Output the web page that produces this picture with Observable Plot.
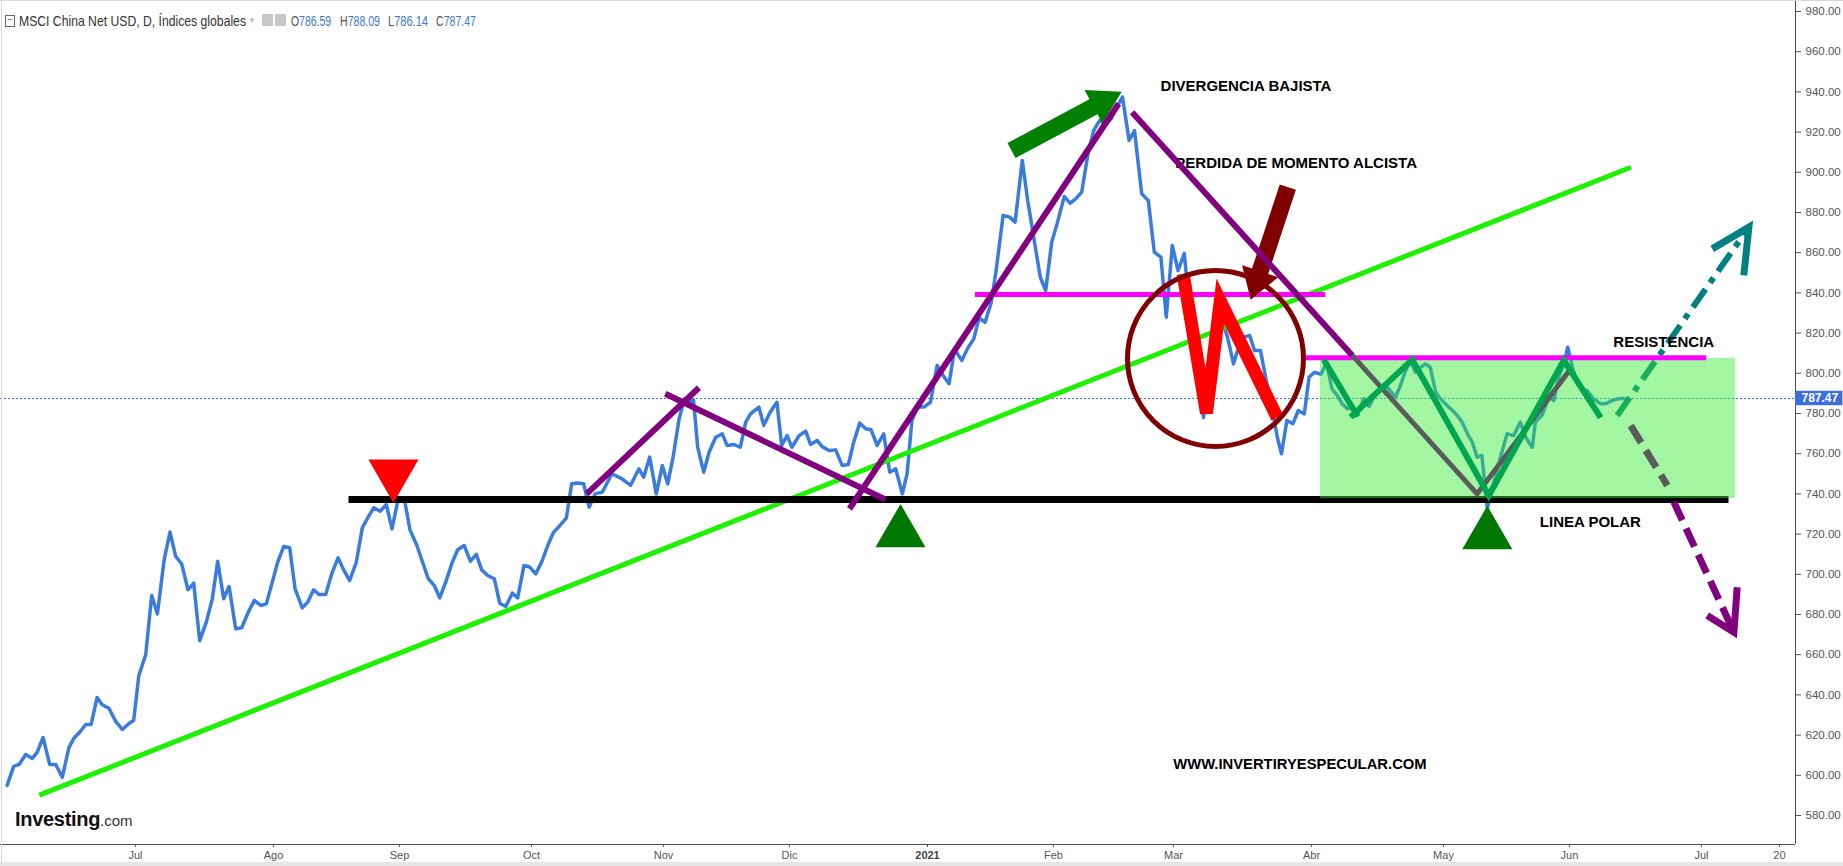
<!DOCTYPE html>
<html><head><meta charset="utf-8">
<script src="https://cdn.jsdelivr.net/npm/d3@7"></script>
<script src="https://cdn.jsdelivr.net/npm/@observablehq/plot@0.6"></script>
<style>
html,body{margin:0;padding:0;background:#fff;}
#wrap{position:relative;width:1843px;height:866px;overflow:hidden;background:#fff;}
#chart{position:absolute;left:0;top:0;}
#hdr{position:absolute;left:0;top:12px;height:18px;width:700px;color:#333;font-size:15px;font-family:"Liberation Sans",Arial,sans-serif;}
#hdr > span{position:absolute;top:0;white-space:nowrap;line-height:18px;transform-origin:0 50%;}
#hdr .box{left:5px;top:3px;width:8px;height:10px;border:1px solid #666;line-height:8px;font-size:10px;text-align:center;color:#666;}
#hdr .caret{left:248px;color:#bbb;font-size:8px;}
#hdr .ico{top:2px;width:11px;height:12px;background:#c8c8c8;border-radius:1px;}
#hdr .v{color:#3a78d6;}
#hdr .k{color:#555;}
#logo{position:absolute;left:15px;top:808px;font-family:"Liberation Sans",Arial,sans-serif;white-space:nowrap;}
#logo b{font-size:20px;color:#111;letter-spacing:-0.3px;}
#logo span{font-size:15px;color:#333;}
#edgeL{position:absolute;left:1px;top:0;width:1px;height:862px;background:#d8d8d8;}
#edgeT{position:absolute;left:0;top:0;width:1843px;height:1px;background:#d8d8d8;}
#band{position:absolute;left:0;top:862px;width:1843px;height:4px;background:#e6e6e6;}
</style></head>
<body><div id="wrap"><div id="chart"></div><div id="edgeL"></div><div id="edgeT"></div><div id="band"></div>
<div id="hdr"></div>
<div id="logo"><b>Investing</b><span>.com</span></div>
</div>
<script>
// ---- DATA ----
// trading sessions counted from 1 Jul 2020 (= 0); weekends skipped
const session = [
-21.4,-20.3,-19.4,-18.3,-17.2,-16.4,-15.4,-14.3,-13.3,-12.2,-11.1,-10.3,-9.2,-8.3,-7.4,-6.4,-5.6,-4.4,-3.3,-2.2,-1.1,-0.3,0.55,
1.7,2.7,3.65,4.8,5.75,6.7,7.7,8.75,9.7,10.7,11.8,12.8,13.7,14.7,15.6,16.7,17.7,18.8,19.8,20.9,21.8,22.8,23.7,24.7,25.7,26.6,27.8,28.7,29.7,30.6,31.7,32.7,33.75,34.7,35.7,36.8,37.8,38.7,39.7,40.8,41.8,42.75,43.8,44.8,45.75,46.9,47.85,48.8,49.8,50.7,51.7,52.8,53.7,54.8,55.8,56.8,57.7,58.7,59.8,60.7,61.7,62.8,63.7,64.75,65.7,66.7,67.75,68.7,69.7,70.75,71.8,72.7,73.7,74.7,75.6,76.6,
77.8,79.4,81.1,82.5,83.9,84.7,85.7,86.8,87.8,88.7,89.6,90.6,91.5,92.2,93,93.7,94.7,95.6,96.7,97.8,98.6,99.7,100.8,101.7,102.5,103.9,104.7,105.8,106.9,107.7,108.6,109.4,110.6,111.7,112.5,113.6,114.4,115.6,116.7,117.8,118.8,119.7,120.7,121.7,122.6,123.6,124.7,125.7,126.7,127.8,128.6,129.4,130.3,131.4,132.5,133.6,134.6,135.6,136.5,137.7,138.8,139.7,140.6,141.6,142.6,
143.4,144.6,145.7,146.6,147.8,148.7,149.7,150.8,151.7,152.7,153.6,154.8,155.75,156.7,157.7,158.75,159.7,160.7,161.6,162.6,163.5,164.5,165.6,166.5,167.7,168.8,169.8,170.9,171.8,172.8,173.75,174.8,175.85,
177,178,179.2,180.2,181.1,182,183,183.5,184.6,185.7,186.5,187.5,188.4,189.4,190.3,191,191.9,192.9,193.8,194.8,195.6,196.5,197.6,198.5,
199.4,200.3,201.1,202,202.8,203.6,204.7,205.6,206.4,207.5,208.6,210,210.8,211.7,212.5,213.3,214.2,215,215.8,216.7,217.5,218.3,219.5,220.3,221.1,222,222.8,223.6,224.4,225.3,226.4,227.5,228.6,229.7,230.8,231.7,232.8,233.3,234.4,235.6,236.4,237.2,238.1,238.7,239.5,240.3,241.1,241.9,243,244.2,245,246.1,247.2,248.1
];
const closeValue = [
595,604.4,605.4,610.3,608.4,611.4,618.8,605.4,605.4,599,613.8,618.3,621.8,625.3,625.3,638.7,635.2,633.2,626.8,622.8,625.8,627.3,649.6,
660,689.4,680.3,707.7,721,708.9,705.2,692.3,695.6,667,676.2,687.8,706.5,687.8,693.9,672.9,673.4,681.2,687,684.5,685.3,696.1,706,713.8,713.2,692.8,683.3,686.1,692.3,689.9,689.9,700.2,708.2,702.2,696.9,706,723.1,728.1,733.1,731.4,734.7,722.6,737.6,737.6,722.1,714.3,706,697.8,694.4,688.3,696.1,706,712.2,714.3,706.5,709.9,702.2,699.4,697.8,685.6,684,690.6,688.3,704.4,703.6,700.2,706.5,714.3,721,724.3,727.9,745,745.4,745,733.4,740,
740.9,750,747.5,744.2,752.5,748.3,758.3,740,754.1,745,758.3,777.4,787.3,785.6,786.8,763.2,750.8,760.7,768.2,769.9,764.1,764.6,763.2,775.7,779.8,783.2,774.1,780.7,785.6,764.1,769,763.2,769,771.2,764.6,766.6,763.6,761.6,761.9,754.1,754.6,765.7,775.2,772.4,771.9,764.1,769.9,750.8,752.5,740,750,776.5,783.2,783.2,785.6,803.9,798.9,794.8,812,806.4,813,817,827.5,825.4,835,
850.3,878.5,877.7,875.2,905.9,886,867.7,847.8,841.2,865.2,874.4,888,884.6,886.8,890.1,909.2,920.8,925.8,924.1,926.6,932.4,937.4,915.8,920.8,889.3,886,860.3,857.8,827.9,863.6,851.1,859.7,826.3,
800,778,800,836,826.3,818,804.7,809.7,818,818.8,811.3,811.3,797.2,783.2,768.2,760,776.5,774.9,781.5,779.8,798.1,800.5,799.5,805.5,
792.3,789,784.8,782.3,783.2,779,787.3,783.5,788.1,793.1,793.1,788.1,793.9,801.4,806.4,800.5,803,804.7,803,790.6,787.3,784.8,781.5,779,775.7,769.9,765.7,758.3,759.1,733,745.8,758.3,769.9,769,775.7,768.2,763.2,775.7,779,788.1,786.5,798.1,804.7,813,803,794.8,791.5,791.5,787.3,784.8,784.8,786.5,787.3,787.47
];
const ohlcKeys = ["O","H","L","C"];
const ohlcValues = [786.59, 788.09, 786.14, 787.47];
const lastClose = 787.47;
const titleText = "MSCI China Net USD, D, Índices globales";

const tickSessions = [0,23,44,66,88,109,132,153,173,196,218,239,261,274];
const tickLabels = ["Jul","Ago","Sep","Oct","Nov","Dic","2021","Feb","Mar","Abr","May","Jun","Jul","20"];
const yTicks = d3.range(580, 981, 20);

// annotation drawings, in (session, price)
const supportTrend = [[-16.03,590.1],[249.25,902.5]];
const polarLine = [[35.5,737.2],[265.5,737.2]];
const purpleA = [[75.2,740.0],[93.9,792.8]];
const purpleB = [[88.3,789.8],[125,737.2]];
const purpleC = [[119,732.6],[163.85,934.1]];
const purpleD = [[166.1,929.9],[202.8,808.9]];
const grayV = [[202.8,808.9],[223.6,740],[239.2,802.2]];
const grayDash = [[249.2,774.0],[255.3,744.2]];
const purpleDash = [[256.4,735.9],[266.4,671.2]];
const purpleHead = [[261.95,679.5],[266.4,671.2],[266.95,693.6]];
const tealDash = [[246.95,779.0],[268.9,872.7]];
const tealHead = [[262.8,861.9],[268.9,872.7],[268.05,848.7]];
const greenZigA = [[198.05,806.7],[203.7,778.5]];
const greenZigB = [[202.5,778.2],[212.8,806.7],[225.55,739.2],[238.05,806.4],[244.2,777.9]];
const magentaHigh = [[139.9,839.2],[198.3,839.2]];
const resistance = [[194.8,807.7],[261.8,807.7]];
const redW = [[174.6,849.5],[178.5,780.2],[180.8,835.9],[190.3,777.9]];
const greenZone = [{x1:197.5, x2:266.7, y1:737.7, y2:807.4}];
const wCircle = [[180.0,807.4]];
const greenArrow = [[146,910.8],[164.37,940.1]];
const redArrow = [[192.05,892.6],[185.87,836.6]];
const topMarker = [[43.0,749.9]];
const bottomMarkers = [[127.5,720.6],[225.3,719.7]];
const notes = [
  {text:"DIVERGENCIA BAJISTA", x:170.85, y:942.7},
  {text:"PERDIDA DE MOMENTO ALCISTA", x:173.3, y:904.5},
  {text:"RESISTENCIA", x:246.3, y:815.5},
  {text:"LINEA POLAR", x:234.05, y:725.9}
];
const website = [{text:"WWW.INVERTIRYESPECULAR.COM", x:172.95, y:605.7}];

// ---- CHART ----
const W = 1843, H = 866, mR = 48, mB = 22;
const xDomain = [-22.5, 276.667];
const yDomain = [565.57, 985.47];
const xs = d3.scaleLinear(xDomain, [0, W - mR]);
const ys = d3.scaleLinear(yDomain, [H - mB, 0]);

function arrowPolygon([t, h], shaftW, headW, headL) {
  const ax = xs(t[0]), ay = ys(t[1]), bx = xs(h[0]), by = ys(h[1]);
  const dx = bx - ax, dy = by - ay, L = Math.hypot(dx, dy);
  const ux = dx / L, uy = dy / L, nx = -uy, ny = ux;
  const cx = bx - ux * headL, cy = by - uy * headL;
  const pts = [
    [ax + nx*shaftW/2, ay + ny*shaftW/2],
    [cx + nx*shaftW/2, cy + ny*shaftW/2],
    [cx + nx*headW/2, cy + ny*headW/2],
    [bx, by],
    [cx - nx*headW/2, cy - ny*headW/2],
    [cx - nx*shaftW/2, cy - ny*shaftW/2],
    [ax - nx*shaftW/2, ay - ny*shaftW/2],
    [ax + nx*shaftW/2, ay + ny*shaftW/2]
  ];
  return pts.map(([x, y]) => [xs.invert(x), ys.invert(y)]);
}

const n = Math.min(session.length, closeValue.length);
const series = d3.range(n).map(i => ({s: session[i], v: closeValue[i]}));
const path = (pts, o) => Plot.line(pts, {x: d => d[0], y: d => d[1], strokeLinecap: "butt", strokeLinejoin: "miter", strokeMiterlimit: 4, ...o});
const poly = (pts, color) => Plot.line(pts, {x: d => d[0], y: d => d[1], fill: color, stroke: "none"});
const labelOf = new Map(tickSessions.map((t, i) => [t, tickLabels[i]]));
const txtFont = "'Liberation Sans',Arial,sans-serif";

const purple = "#800080";
const chart = Plot.plot({
  width: W, height: H,
  marginLeft: 0, marginRight: mR, marginTop: 0, marginBottom: mB,
  style: {background: "#fff", overflow: "visible", fontFamily: txtFont},
  x: {type: "linear", domain: xDomain, axis: null},
  y: {type: "linear", domain: yDomain, axis: null},
  marks: [
    Plot.ruleY([lastClose], {stroke: "#3c78d8", strokeWidth: 1, strokeDasharray: "2,2"}),
    path(tealDash, {stroke: "#008080", strokeWidth: 6, strokeDasharray: "22,8,6,8"}),
    path(tealHead, {stroke: "#008080", strokeWidth: 7}),
    Plot.line(series, {x: "s", y: "v", stroke: "#3a7cdd", strokeWidth: 3.5, strokeLinejoin: "round"}),
    path(supportTrend, {stroke: "#1ef000", strokeWidth: 5}),
    path(polarLine, {stroke: "#000", strokeWidth: 7}),
    Plot.rect(greenZone, {x1: "x1", x2: "x2", y1: "y1", y2: "y2", fill: "#33ee33", fillOpacity: 0.45}),
    path(magentaHigh, {stroke: "#ff00ff", strokeWidth: 5}),
    path(resistance, {stroke: "#ff00ff", strokeWidth: 5}),
    Plot.text(notes, {x: "x", y: "y", text: "text", textAnchor: "start", fontSize: 15, fontWeight: "bold", fill: "#000", fontFamily: txtFont}),
    Plot.text(website, {x: "x", y: "y", text: "text", textAnchor: "start", fontSize: 14.8, fontWeight: "bold", fill: "#000", fontFamily: txtFont}),
    poly(arrowPolygon(greenArrow, 17, 38, 32), "#008000"),
    poly(arrowPolygon(redArrow, 17, 38, 30), "#800000"),
    path(purpleA, {stroke: purple, strokeWidth: 6}),
    path(purpleB, {stroke: purple, strokeWidth: 6}),
    path(purpleC, {stroke: purple, strokeWidth: 6}),
    path(purpleD, {stroke: purple, strokeWidth: 6}),
    path(grayV, {stroke: "#5b5b5b", strokeWidth: 5}),
    path(grayDash, {stroke: "#5b5b5b", strokeWidth: 7, strokeDasharray: "20,9"}),
    path(purpleDash, {stroke: purple, strokeWidth: 7, strokeDasharray: "20,9"}),
    path(purpleHead, {stroke: purple, strokeWidth: 7}),
    path(greenZigA, {stroke: "#00a550", strokeWidth: 6}),
    path(greenZigB, {stroke: "#00a550", strokeWidth: 6}),
    path(redW, {stroke: "#ff0000", strokeWidth: 13}),
    Plot.dot(wCircle, {x: d => d[0], y: d => d[1], r: 88, stroke: "#800000", strokeWidth: 5, fill: "none"}),
    Plot.dot(topMarker, {x: d => d[0], y: d => d[1], symbol: "triangle", r: 18.6, fill: "#ff0000", stroke: "none", rotate: 180}),
    Plot.dot(bottomMarkers, {x: d => d[0], y: d => d[1], symbol: "triangle", r: 18.6, fill: "#007800", stroke: "none"}),
    Plot.ruleX([xDomain[1]], {stroke: "#4d4d4d", strokeWidth: 1}),
    Plot.ruleY([yDomain[0]], {stroke: "#4d4d4d", strokeWidth: 1}),
    Plot.axisY({ticks: yTicks, anchor: "right", tickSize: 5, tickPadding: 5, tickFormat: d => d.toFixed(2), fontSize: 11.5, color: "#555", label: null, fontFamily: txtFont}),
    Plot.axisX({ticks: tickSessions.filter(t => labelOf.get(t) !== "2021"), tickFormat: d => labelOf.get(d), tickSize: 3, tickPadding: 4, fontSize: 11, color: "#555", label: null, fontFamily: txtFont}),
    Plot.axisX({ticks: tickSessions.filter(t => labelOf.get(t) === "2021"), tickFormat: d => labelOf.get(d), tickSize: 3, tickPadding: 4, fontSize: 11, fontWeight: "bold", color: "#444", label: null, fontFamily: txtFont}),
    Plot.rect([lastClose], {x1: xDomain[1], x2: xDomain[1] + 7.9, y1: d => d - 3.6, y2: d => d + 3.6, fill: "#3c6fdc"}),
    Plot.text([lastClose], {x: xDomain[1], y: d => d, text: d => d.toFixed(2), dx: 6, textAnchor: "start", fill: "#fff", fontSize: 12, fontWeight: "bold", fontFamily: txtFont})
  ]
});
document.getElementById("chart").appendChild(chart);

// header (each piece squeezed to the width it takes in the reference)
const hdr = document.getElementById("hdr");
let html = `<span class="box">−</span><span class="fit" data-w="227" style="left:19px">${titleText}</span><span class="caret">▼</span>`;
html += `<span class="ico" style="left:262px"></span><span class="ico" style="left:275px"></span>`;
const ohlcLeft = [291, 340, 388, 436];
ohlcKeys.forEach((k, i) => {
  html += `<span class="fit" data-w="40" style="left:${ohlcLeft[i]}px"><span class="k">${k}</span><span class="v">${ohlcValues[i].toFixed(2)}</span></span>`;
});
hdr.innerHTML = html;
hdr.querySelectorAll(".fit").forEach(el => {
  const w = el.getBoundingClientRect().width;
  const target = +el.dataset.w;
  if (w > target) el.style.transform = `scaleX(${target / w})`;
});
</script>
</body></html>
